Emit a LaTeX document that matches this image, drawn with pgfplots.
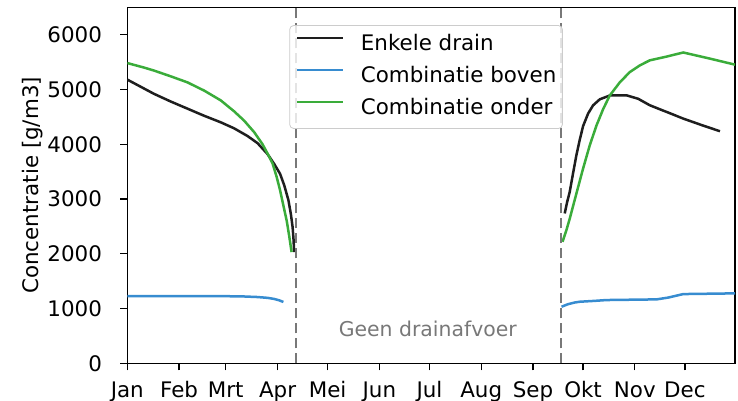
\documentclass[border=0pt]{standalone}
\usepackage{pgfplots}
\pgfplotsset{compat=1.18}
\usepackage{fontspec}
\setmainfont{DejaVu Sans}
\definecolor{cblack}{RGB}{30,30,30}
\definecolor{cblue}{RGB}{55,140,208}
\definecolor{cgreen}{RGB}{58,172,58}
\definecolor{cgray}{RGB}{120,120,120}
\begin{document}
\begin{tikzpicture}[font=\fontsize{10.7}{13}\selectfont]
\begin{axis}[
  scale only axis, width=303.85pt, height=178pt,
  xmin=0, xmax=364, ymin=0, ymax=6500,
  xtick={0,31,59,90,120,151,181,212,243,273,304,334},
  xticklabels={Jan,Feb,Mrt,Apr,Mei,Jun,Jul,Aug,Sep,Okt,Nov,Dec},
  ytick={0,1000,2000,3000,4000,5000,6000},
  scaled y ticks=false,
  /pgf/number format/assume math mode=true,
  /pgf/number format/1000 sep={},
  xtick pos=bottom, ytick pos=left,
  tick align=outside, major tick length=3.5pt,
  tick style={black, line width=0.6pt},
  axis line style={line width=0.7pt},
  xticklabel style={inner sep=0pt, anchor=base, yshift=-13.6pt},
  yticklabel style={inner sep=0pt, anchor=east, xshift=-9pt},
  ylabel={Concentratie [g/m3]},
  ylabel style={at={(axis description cs:-0.156,0.5)}, anchor=center},
  legend style={at={(0.2666,0.950)}, anchor=north west, draw=black!20, fill=white, fill opacity=0.8, text opacity=1,
    rounded corners=2pt, inner xsep=3pt, inner ysep=4.6pt, row sep=5.7pt, column sep=8.3pt,
    nodes={inner sep=0pt, text height=8pt, text depth=2.3pt}},
  legend cell align=left,
  legend image code/.code={\draw[line width=1.3pt, #1, line width=1.3pt] (0pt,3.5pt) -- (23pt,3.5pt);},
  legend image post style={line width=1.3pt},
  every axis plot/.append style={line width=1.25pt},
]
% Enkele drain (left part)
\addplot[cblack] coordinates {
(0,5180) (8,5050) (16,4920) (26,4780) (36,4650) (46,4520) (56,4400) (64,4290) (72,4150) (78,4020)
(84,3820) (88,3640) (91.5,3460) (94,3250) (96.5,2980) (98,2720) (99,2490) (99.6,2250) (99.9,2030)};
\addlegendentry{Enkele drain}
% Combinatie boven (left)
\addplot[cblue] coordinates {
(0,1225) (20,1228) (40,1228) (60,1225) (70,1220) (78,1210) (84,1195) (88,1175) (91,1150) (93.5,1120)};
\addlegendentry{Combinatie boven}
% Combinatie onder (left)
\addplot[cgreen] coordinates {
(0,5482) (10,5400) (16,5345) (26,5240) (36,5130) (46,4980) (56,4800) (64,4600) (70,4430) (76,4220)
(81,4000) (84,3830) (87,3650) (89.5,3400) (91.5,3160) (93.5,2880) (95.5,2600) (97,2320) (98.4,2030)};
\addlegendentry{Combinatie onder}
% right parts
\addplot[cblack, forget plot] coordinates {
(262,2736) (263.5,2950) (265,3130) (267,3470) (269,3800) (271,4080) (273,4330) (276,4560) (279,4710)
(283,4820) (289,4890) (299,4893) (306,4830) (313,4711) (323,4590) (333,4468) (344,4350) (355,4237)};
\addplot[cblue, forget plot] coordinates {
(260.1,1032) (264,1080) (268,1110) (271,1124) (280,1140) (287,1155) (317,1167) (324,1200) (333,1264) (364,1277)};
\addplot[cgreen, forget plot] coordinates {
(260.7,2218) (263,2430) (265,2640) (269,3100) (273,3556) (277,3980) (281,4340) (285,4640) (289,4890)
(295,5130) (301,5318) (307,5440) (313,5532) (323,5600) (333,5675) (349,5563) (364,5453)};
% dashed boundaries
\addplot[cgray, line width=1pt, dash pattern=on 5pt off 2.5pt, forget plot] coordinates {(101,0) (101,6500)};
\addplot[cgray, line width=1pt, dash pattern=on 5pt off 2.5pt, forget plot] coordinates {(260,0) (260,6500)};
\node[text=cgray, font=\fontsize{10.2}{12}\selectfont] at (axis cs:180,620) {Geen drainafvoer};
\end{axis}
\pgfresetboundingbox
\path (current axis.south west) +(-63.65pt,-18.85pt) rectangle +(305.35pt,181.65pt);
\end{tikzpicture}
\end{document}
